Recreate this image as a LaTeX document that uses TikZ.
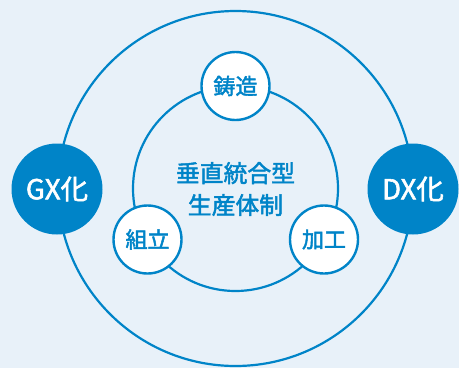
\documentclass[tikz,border=0pt]{standalone}
\usepackage{fontspec}
\setmainfont{Noto Sans CJK JP}[FakeBold=2]
\definecolor{bgblue}{HTML}{E8F1F9}
\definecolor{mainblue}{HTML}{0084C8}
\begin{document}
\begin{tikzpicture}[x=1pt,y=-1pt,
  ring/.style={draw=mainblue,line width=2.2pt},
  proc/.style={circle,draw=mainblue,line width=2.4pt,fill=white,minimum size=68pt,inner sep=0pt,text=mainblue,font=\fontsize{22}{24}\selectfont},
  trans/.style={circle,fill=mainblue,minimum size=91pt,inner sep=0pt,text=white,font=\fontsize{27.5}{30}\selectfont},
  core/.style={text=mainblue,align=center,font=\fontsize{23.8}{32}\selectfont}]
\fill[bgblue] (0,0) rectangle (459,368);
\useasboundingbox (0,0) rectangle (459,368);
\coordinate (c) at (235.5,188.5);
\draw[ring] (c) circle[radius=177.5];
\draw[ring] (c) circle[radius=102.5];
\node[trans] (gx) at (57,189) {GX化};
\node[trans] (dx) at (413,189) {DX化};
\node[proc] (cast) at (235.5,86) {鋳造};
\node[proc] (asm) at (147.5,239.5) {組立};
\node[proc] (mach) at (324,239.5) {加工};
\node[core] (center) at (235.5,189) {垂直統合型\\生産体制};
\end{tikzpicture}
\end{document}
